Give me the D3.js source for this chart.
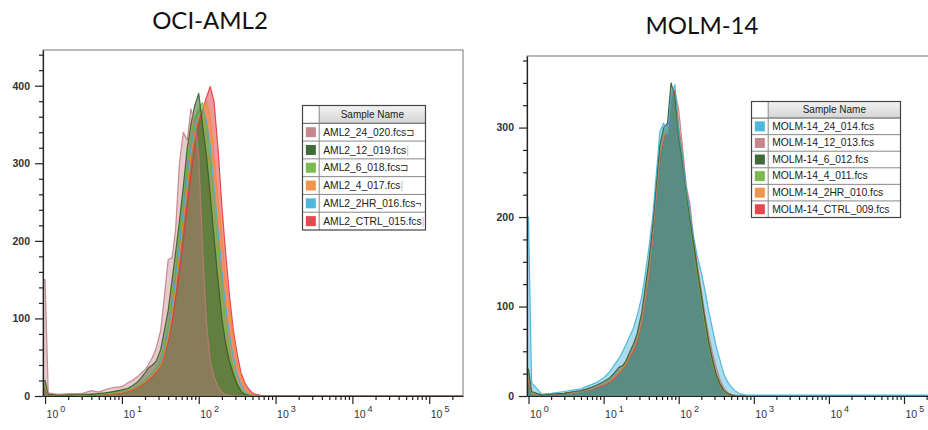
<!DOCTYPE html>
<html>
<head>
<meta charset="utf-8">
<script src="https://cdn.jsdelivr.net/npm/d3@7"></script>
<style>
body { margin: 0; background: #fff; }
svg { display: block; font-family: "Liberation Sans", Arial, sans-serif; }
</style>
</head>
<body>
<div id="visual"></div>
<script>
// fluorescence intensity of each histogram bin (shared by all samples)
const bins = [0.94, 1, 1.1, 1.5, 2, 3, 4, 5, 6, 7, 8, 10, 12, 14, 16, 18, 20, 22, 25, 28,
  32, 35, 40, 45, 50, 56, 63, 71, 79, 89, 100, 112, 126, 141, 158, 178, 200, 224, 251, 282,
  316, 355, 398, 447, 501, 562, 631, 708, 794, 1000, 10000, 275000];

// OCI-AML2 counts per bin
const aml2_24 = [150, 150, 4, 2, 3, 3, 7, 5, 8, 10, 11, 12, 17, 21, 25, 30, 34, 40, 50, 62,
  85, 120, 176, 178, 215, 300, 340, 330, 370, 352, 310, 190, 95, 45, 25, 12, 5, 2, 1, 0,
  0, 0, 0, 0, 0, 0, 0, 0, 0, 0, 0, 0];
const aml2_12 = [20, 20, 2, 1, 1, 2, 2, 3, 4, 5, 6, 8, 10, 14, 18, 24, 30, 36, 40, 45,
  60, 80, 110, 150, 185, 225, 270, 320, 350, 375, 390, 350, 310, 260, 205, 150, 100, 68, 45, 28,
  15, 6, 2, 1, 0, 0, 0, 0, 0, 0, 0, 0];
const aml2_6 = [15, 15, 2, 1, 1, 1, 2, 2, 3, 4, 5, 6, 8, 10, 13, 16, 20, 25, 30, 36,
  48, 62, 92, 130, 165, 210, 255, 300, 335, 360, 372, 378, 345, 300, 250, 195, 140, 95, 60, 35,
  18, 8, 3, 1, 0, 0, 0, 0, 0, 0, 0, 0];
const aml2_4 = [12, 12, 2, 1, 1, 1, 2, 2, 3, 3, 4, 5, 7, 9, 12, 15, 18, 22, 27, 32,
  40, 52, 75, 105, 140, 180, 225, 270, 310, 340, 360, 370, 380, 360, 310, 255, 205, 150, 110, 76,
  45, 25, 12, 5, 2, 1, 0, 0, 0, 0, 0, 0];
const aml2_2hr = [12, 12, 2, 1, 1, 1, 2, 2, 3, 4, 4, 6, 8, 10, 13, 16, 20, 24, 29, 35,
  45, 58, 82, 115, 150, 195, 240, 285, 320, 348, 362, 368, 355, 320, 270, 215, 160, 115, 78, 50,
  28, 14, 6, 2, 1, 0, 0, 0, 0, 0, 0, 0];
const aml2_ctrl = [10, 10, 2, 1, 1, 1, 1, 2, 2, 3, 3, 5, 6, 8, 11, 14, 17, 21, 25, 30,
  40, 50, 70, 95, 125, 160, 200, 245, 285, 320, 350, 368, 385, 399, 380, 320, 245, 185, 130, 85,
  55, 30, 17, 9, 4, 2, 1, 0, 0, 0, 0, 0];

// MOLM-14 counts per bin
const molm_24 = [200, 200, 15, 2, 3, 5, 7, 8, 11, 13, 15, 20, 27, 35, 42, 50, 58, 66, 76, 90,
  110, 130, 165, 200, 245, 295, 305, 292, 335, 348, 295, 268, 232, 205, 178, 155, 138, 118, 95, 75,
  55, 40, 25, 16, 10, 6, 3, 2, 1, 1, 1, 1];
const molm_12 = [20, 20, 3, 1, 2, 3, 4, 5, 6, 8, 10, 13, 17, 22, 28, 33, 38, 45, 54, 65,
  85, 105, 140, 180, 225, 270, 290, 295, 335, 340, 320, 280, 235, 215, 175, 145, 118, 90, 68, 48,
  32, 18, 9, 4, 2, 1, 0, 0, 0, 0, 0, 0];
const molm_6 = [30, 30, 5, 1, 2, 3, 5, 6, 8, 10, 12, 16, 20, 26, 32, 34, 40, 48, 58, 70,
  92, 115, 150, 190, 235, 280, 300, 305, 350, 335, 290, 262, 228, 198, 170, 140, 112, 85, 60, 40,
  24, 13, 6, 3, 1, 0, 0, 0, 0, 0, 0, 0];
const molm_4 = [20, 20, 3, 1, 2, 3, 4, 5, 7, 8, 10, 13, 17, 22, 27, 32, 37, 44, 53, 64,
  84, 105, 140, 182, 228, 272, 292, 298, 338, 338, 292, 262, 225, 195, 165, 135, 108, 80, 56, 37,
  22, 12, 5, 2, 1, 0, 0, 0, 0, 0, 0, 0];
const molm_2hr = [18, 18, 3, 1, 2, 3, 4, 5, 7, 8, 10, 13, 16, 21, 26, 31, 36, 43, 52, 63,
  82, 103, 138, 180, 226, 270, 290, 296, 336, 340, 296, 265, 228, 198, 168, 138, 110, 82, 58, 38,
  23, 12, 5, 2, 1, 0, 0, 0, 0, 0, 0, 0];
const molm_ctrl = [15, 15, 3, 1, 2, 3, 4, 5, 6, 8, 9, 12, 15, 20, 25, 30, 35, 42, 50, 61,
  80, 100, 135, 176, 222, 266, 288, 295, 335, 342, 300, 270, 232, 205, 172, 142, 114, 86, 60, 40,
  24, 13, 6, 2, 1, 0, 0, 0, 0, 0, 0, 0];

const aml2Names = ['AML2_24_020.fcs', 'AML2_12_019.fcs', 'AML2_6_018.fcs', 'AML2_4_017.fcs', 'AML2_2HR_016.fcs', 'AML2_CTRL_015.fcs'];
const aml2Marks = ['\u2290', '|', '\u2290', '|', '\u00ac', '|'];
const molmNames = ['MOLM-14_24_014.fcs', 'MOLM-14_12_013.fcs', 'MOLM-14_6_012.fcs', 'MOLM-14_4_011.fcs', 'MOLM-14_2HR_010.fcs', 'MOLM-14_CTRL_009.fcs'];

const yTicksAml2 = [0, 100, 200, 300, 400];
const yTicksMolm = [0, 100, 200, 300];
const xDecades = [1, 10, 100, 1000, 10000, 100000];

const pink = '#c07a80', dkGreen = '#2c5a26', ltGreen = '#6bb33c', orange = '#f08a38', blue = '#3aafd8', red = '#e2343a';
const fillAlpha = {[pink]: 0.4, [blue]: 0.42};

const W = 928, H = 430;
const svg = d3.select('#visual').append('svg').attr('width', W).attr('height', H);

const defs = svg.append('defs');
const hdr = defs.append('linearGradient').attr('id', 'hdr').attr('x1', 0).attr('y1', 0).attr('x2', 0).attr('y2', 1);
hdr.append('stop').attr('offset', 0).attr('stop-color', '#f3f3f3');
hdr.append('stop').attr('offset', 1).attr('stop-color', '#d4d4d4');

const panels = [
	{
		id: 'aml2', title: 'OCI-AML2', titleX: 210, titleY: 29,
		series: [aml2_24, aml2_12, aml2_6, aml2_4, aml2_2hr, aml2_ctrl],
		colors: [pink, dkGreen, ltGreen, orange, blue, red],
		stack: [5, 4, 3, 2, 1, 0],
		names: aml2Names, marks: aml2Marks,
		left: 43, right: 463, top: 50, bottom: 396, xMin: 0.94, xMax: 275000,
		yMax: 446, yTicks: yTicksAml2, yMinor: 20,
		legend: {x: 302.5, y: 105.5, w: 123, h: 124.5}
	},
	{
		id: 'molm', title: 'MOLM-14', titleX: 702, titleY: 34,
		series: [molm_24, molm_12, molm_6, molm_4, molm_2hr, molm_ctrl],
		colors: [blue, pink, dkGreen, ltGreen, orange, red],
		stack: [5, 4, 3, 1, 2, 0],
		names: molmNames, marks: null,
		left: 527, right: 937, top: 56, bottom: 396, xMin: 0.955, xMax: 275000,
		yMax: 380, yTicks: yTicksMolm, yMinor: 25,
		legend: {x: 751.5, y: 101.5, w: 149, h: 116}
	}
];

const drawPanel = p => {
	const g = svg.append('g');
	const x = d3.scaleLog().domain([p.xMin, p.xMax]).range([p.left, p.right]);
	const y = d3.scaleLinear().domain([0, p.yMax]).range([p.bottom, p.top]);

	defs.append('clipPath').attr('id', 'clip-' + p.id)
		.append('rect').attr('x', p.left).attr('y', p.top)
		.attr('width', p.right - p.left).attr('height', p.bottom - p.top);

	// title
	svg.append('text')
		.attr('x', p.titleX).attr('y', p.titleY)
		.attr('text-anchor', 'middle')
		.style('font-family', 'Lato, "Open Sans", sans-serif')
		.style('font-size', '24px')
		.attr('fill', '#111')
		.text(p.title);

	// frame
	g.append('rect')
		.attr('x', p.left).attr('y', p.top)
		.attr('width', p.right - p.left).attr('height', p.bottom - p.top)
		.attr('fill', '#fff').attr('stroke', '#777').attr('stroke-width', 1);

	const area = d3.area()
		.x((d, i) => x(bins[i]))
		.y0(y(0))
		.y1(d => y(d));
	const line = d3.line()
		.x((d, i) => x(bins[i]))
		.y(d => y(d));

	const plot = g.append('g').attr('clip-path', 'url(#clip-' + p.id + ')');
	p.stack.forEach(k => {
		plot.append('path')
			.datum(p.series[k])
			.attr('d', area)
			.attr('fill', p.colors[k])
			.attr('fill-opacity', fillAlpha[p.colors[k]] || 0.5);
	});
	// outlines on top of every fill
	p.stack.forEach(k => {
		plot.append('path')
			.datum(p.series[k])
			.attr('d', line)
			.attr('fill', 'none')
			.attr('stroke', p.colors[k])
			.attr('stroke-opacity', 0.85)
			.attr('stroke-width', 1.2)
			.attr('stroke-linejoin', 'round');
	});

	// y axis
	const yMinorVals = d3.range(0, p.yMax + 1, p.yMinor).filter(v => p.yTicks.indexOf(v) < 0);
	g.append('g')
		.attr('transform', `translate(${p.left},0)`)
		.call(d3.axisLeft(y).tickValues(yMinorVals).tickSize(4).tickFormat('').tickSizeOuter(0))
		.call(a => a.select('.domain').remove());
	const yAxis = g.append('g')
		.attr('transform', `translate(${p.left},0)`)
		.call(d3.axisLeft(y).tickValues(p.yTicks).tickSize(8).tickPadding(5).tickSizeOuter(0));
	yAxis.selectAll('text').style('font-size', '10.5px').style('font-weight', 'bold').attr('fill', '#333');

	// x axis
	const xMinorVals = [];
	xDecades.forEach(d => d3.range(2, 10).forEach(m => { if (d * m <= p.xMax) xMinorVals.push(d * m); }));
	g.append('g')
		.attr('transform', `translate(0,${p.bottom})`)
		.call(d3.axisBottom(x).tickValues(xMinorVals).tickSize(4).tickFormat('').tickSizeOuter(0))
		.call(a => a.select('.domain').remove());
	const xAxis = g.append('g')
		.attr('transform', `translate(0,${p.bottom})`)
		.call(d3.axisBottom(x).tickValues(xDecades).tickSize(8).tickFormat('').tickSizeOuter(0));
	xAxis.selectAll('.tick').append('text')
		.attr('x', 1).attr('y', 22)
		.attr('text-anchor', 'start')
		.attr('fill', '#333')
		.style('font-size', '10.5px')
		.call(t => {
			t.append('tspan').text('10');
			t.append('tspan').attr('dx', 2).attr('dy', -6).style('font-size', '9px').text(d => Math.round(Math.log10(d)));
		});

	[yAxis, xAxis].forEach(a => a.selectAll('line, path').attr('stroke', '#222').attr('stroke-width', 1.2));
	g.selectAll('.tick line').attr('stroke', '#222').attr('stroke-width', 1.2);

	drawLegend(p);
};

const drawLegend = p => {
	const L = p.legend, n = p.names.length;
	const rowH = L.h / (n + 1), colW = 16.7;
	const lg = svg.append('g');

	lg.append('rect').attr('x', L.x).attr('y', L.y).attr('width', L.w).attr('height', L.h).attr('fill', '#fff');
	lg.append('rect').attr('x', L.x + colW).attr('y', L.y).attr('width', L.w - colW).attr('height', rowH).attr('fill', 'url(#hdr)');
	lg.append('text')
		.attr('x', L.x + colW + (L.w - colW) / 2).attr('y', L.y + rowH * 0.7)
		.attr('text-anchor', 'middle').attr('fill', '#222')
		.style('font-size', '10px')
		.text('Sample Name');

	p.names.forEach((name, i) => {
		const ry = L.y + rowH * (i + 1);
		lg.append('rect')
			.attr('x', L.x + colW / 2 - 5).attr('y', ry + rowH / 2 - 5)
			.attr('width', 10).attr('height', 10)
			.attr('fill', p.colors[i]).attr('fill-opacity', 0.9);
		const t = lg.append('text')
			.attr('x', L.x + colW + 4).attr('y', ry + rowH * 0.7)
			.attr('fill', '#222')
			.style('font-size', '10.3px');
		t.append('tspan').text(name);
		if (p.marks) t.append('tspan').attr('fill', i % 2 ? '#bbb' : '#444').text(p.marks[i]);
	});

	// grid lines
	d3.range(1, n + 1).forEach(i => {
		lg.append('line')
			.attr('x1', L.x).attr('x2', L.x + L.w)
			.attr('y1', L.y + rowH * i).attr('y2', L.y + rowH * i)
			.attr('stroke', i === 1 ? '#555' : '#888').attr('stroke-width', 1);
	});
	lg.append('line')
		.attr('x1', L.x + colW).attr('x2', L.x + colW)
		.attr('y1', L.y).attr('y2', L.y + L.h)
		.attr('stroke', '#888');
	lg.append('rect').attr('x', L.x).attr('y', L.y).attr('width', L.w).attr('height', L.h)
		.attr('fill', 'none').attr('stroke', '#444').attr('stroke-width', 1.2);
};

panels.forEach(drawPanel);
</script>
</body>
</html>
